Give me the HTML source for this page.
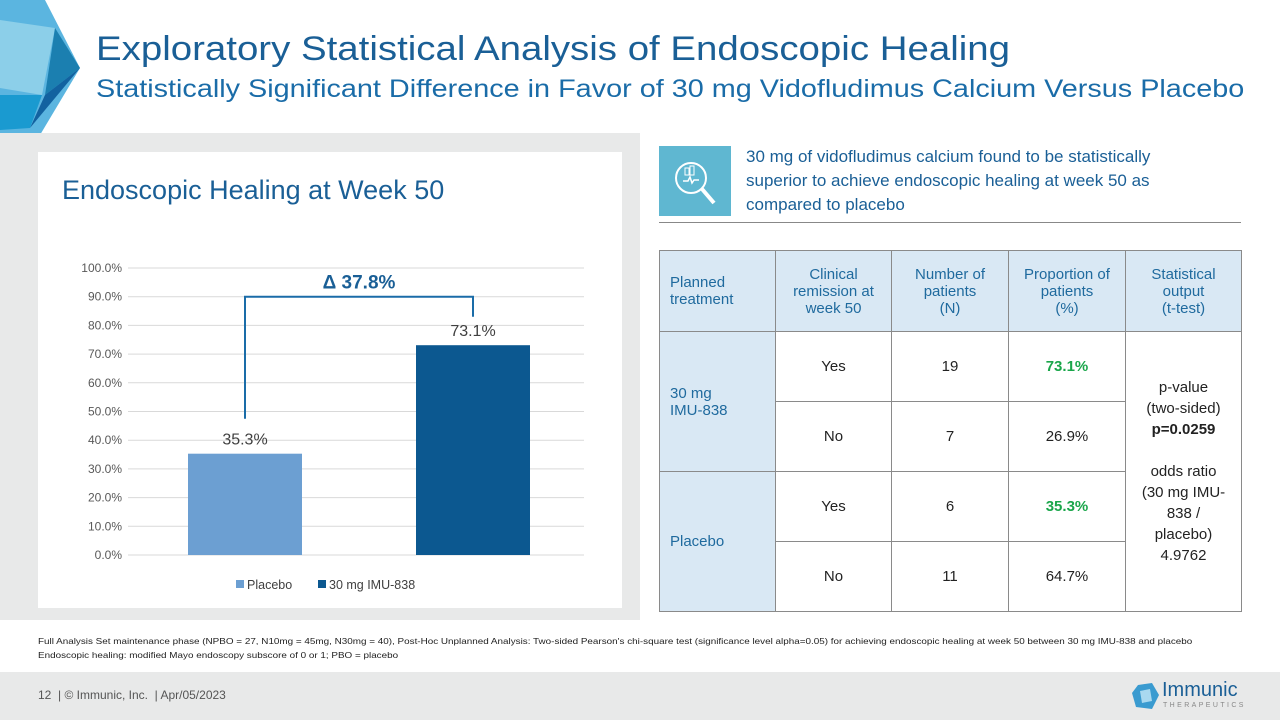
<!DOCTYPE html>
<html><head><meta charset="utf-8">
<style>
body{margin:0;width:1280px;height:720px;position:relative;overflow:hidden;background:#fff;font-family:"Liberation Sans",Carlito,sans-serif;}
.abs{position:absolute}
table{border-collapse:collapse}
td{border:1px solid #8a8a8a;text-align:center;font-size:15px;color:#222;padding:0 8px}
.h td{background:#d9e8f4;color:#1f6a9e}
.lab{background:#d9e8f4;color:#1f6a9e;text-align:left!important;padding-left:10px!important}
.g{color:#1aa64a;font-weight:bold}
</style></head><body>
<svg class="abs" style="left:0;top:0" width="130" height="180">
<polygon points="0,0 45,0 80,68 40,135 0,170" fill="#5bb5e0"/>
<polygon points="0,20 55,28 42,95 0,88" fill="#8ccfe9"/>
<polygon points="55,28 80,68 45,95" fill="#1b7fb0"/>
<polygon points="45,95 80,68 30,128" fill="#1262a0"/>
<polygon points="0,95 42,95 30,128 0,130" fill="#1a9ad0"/>
</svg>
<div class="abs" style="left:96px;top:30px;font-size:34px;color:#1a5f96;white-space:nowrap;transform:scaleX(1.13);transform-origin:0 0">Exploratory Statistical Analysis of Endoscopic Healing</div>
<div class="abs" style="left:96px;top:75px;font-size:25px;color:#1a6ca8;white-space:nowrap;transform:scaleX(1.152);transform-origin:0 0">Statistically Significant Difference in Favor of 30 mg Vidofludimus Calcium Versus Placebo</div>
<div class="abs" style="left:0;top:133px;width:640px;height:487px;background:#e8e9e9"></div>
<div class="abs" style="left:38px;top:152px;width:584px;height:456px;background:#fff"></div>
<div class="abs" style="left:62px;top:175px;font-size:27px;color:#1a5f96">Endoscopic Healing at Week 50</div>
<svg id="chart" class="abs" style="left:38px;top:152px" width="584" height="456"></svg>
<div class="abs" style="left:659px;top:146px;width:72px;height:70px;background:#5fb7d1">
<svg width="72" height="70"><circle cx="32" cy="32" r="15" fill="none" stroke="#fff" stroke-width="2"/><line x1="43" y1="43" x2="55" y2="57" stroke="#fff" stroke-width="4"/><path d="M24 35h5l2-4 2 6 2-3h5" stroke="#fff" fill="none" stroke-width="1.5"/><rect x="26" y="22" width="4" height="7" fill="none" stroke="#fff"/><rect x="31" y="20" width="4" height="9" fill="none" stroke="#fff"/></svg></div>
<div class="abs" style="left:746px;top:145px;width:470px;font-size:17px;line-height:24px;color:#1a5f96">30 mg of vidofludimus calcium found to be statistically superior to achieve endoscopic healing at week 50 as compared to placebo</div>
<div class="abs" style="left:659px;top:222px;width:582px;height:1px;background:#888"></div>
<table class="abs" style="left:659px;top:250px;width:582px;table-layout:fixed">
<colgroup><col style="width:116px"><col style="width:116px"><col style="width:117px"><col style="width:117px"><col style="width:116px"></colgroup>
<tr class="h" style="height:81px"><td class="lab">Planned treatment</td><td>Clinical remission at week 50</td><td>Number of patients<br>(N)</td><td>Proportion of patients<br>(%)</td><td>Statistical output<br>(t-test)</td></tr>
<tr style="height:70px"><td class="lab" rowspan="2">30 mg<br>IMU-838</td><td>Yes</td><td>19</td><td class="g">73.1%</td><td rowspan="4" style="line-height:21px">p-value<br>(two-sided)<br><b>p=0.0259</b><br><br>odds ratio<br>(30 mg IMU-<br>838 /<br>placebo)<br>4.9762</td></tr>
<tr style="height:70px"><td>No</td><td>7</td><td>26.9%</td></tr>
<tr style="height:70px"><td class="lab" rowspan="2">Placebo</td><td>Yes</td><td>6</td><td class="g">35.3%</td></tr>
<tr style="height:70px"><td>No</td><td>11</td><td>64.7%</td></tr>
</table>
<div class="abs" style="left:38px;top:634px;font-size:8.6px;line-height:14px;color:#222;white-space:nowrap;transform:scaleX(1.15);transform-origin:0 0">Full Analysis Set maintenance phase (NPBO = 27, N10mg = 45mg, N30mg = 40), Post-Hoc Unplanned Analysis: Two-sided Pearson's chi-square test (significance level alpha=0.05) for achieving endoscopic healing at week 50 between 30 mg IMU-838 and placebo<br>Endoscopic healing: modified Mayo endoscopy subscore of 0 or 1; PBO = placebo</div>
<div class="abs" style="left:0;top:672px;width:1280px;height:48px;background:#e8e9e9"></div>
<div class="abs" style="left:38px;top:688px;font-size:12px;color:#555">12 &nbsp;| © Immunic, Inc. &nbsp;| Apr/05/2023</div>
<div class="abs" style="left:1132px;top:681px">
<svg width="28" height="28" style="position:absolute;left:0;top:2px"><polygon points="6,2 20,0 27,12 20,26 4,24 0,10" fill="#3a9bd0"/><polygon points="8,8 18,6 20,18 10,20" fill="#a9d9f0"/></svg>
<div style="position:absolute;left:30px;top:-2px;font-size:20px;color:#1a5f96">Immunic</div>
<div style="position:absolute;left:31px;top:21px;font-size:7px;letter-spacing:2.4px;color:#888">THERAPEUTICS</div></div>
<script>
const categories=["Placebo","30 mg IMU-838"];
const values=[35.3,73.1];
const labels=["35.3%","73.1%"];
const ticks=[0,10,20,30,40,50,60,70,80,90,100];
const colors=["#6c9fd2","#0c5890"];
(function(){
const svg=document.getElementById('chart');const NS="http://www.w3.org/2000/svg";
const x0=90,x1=546,yb=403,yt=116;
const y=v=>yb-(v/100)*(yb-yt);
const bx=i=>x0+(x1-x0)*(i+0.5)/categories.length;
function mk(t,a,txt){const e=document.createElementNS(NS,t);for(const k in a)e.setAttribute(k,a[k]);if(txt!==undefined)e.textContent=txt;svg.appendChild(e);return e;}
ticks.forEach(t=>{const l=mk('line',{x1:x0,x2:x1,y1:y(t),y2:y(t),stroke:'#d9d9d9'});


const tx=mk('text',{x:x0-6,y:y(t)+4,'text-anchor':'end','font-size':12,fill:'#595959','font-family':'Liberation Sans'},t.toFixed(1)+'%');

});
const bw=114;
values.forEach((v,i)=>{const r=mk('rect',{x:bx(i)-bw/2+3,y:y(v),width:bw,height:yb-y(v),fill:colors[i]});


const t=mk('text',{x:bx(i)+3,y:y(v)-9,'text-anchor':'middle','font-size':16,fill:'#404040','font-family':'Liberation Sans'},labels[i]);

});
const la=bx(0)+3,lb=bx(1)+3,bt=y(90);
const br=mk('path',{d:`M${la} ${y(values[0])-35}V${bt}H${lb}V${bt+20}`,fill:'none',stroke:'#1a6ca8','stroke-width':2});


const dl=mk('text',{x:(la+lb)/2,y:bt-8,'text-anchor':'middle','font-size':19,fill:'#1a5f96','font-weight':'bold','font-family':'Liberation Sans'},'Δ 37.8%');


categories.forEach((c,i)=>{const lx=[198,280][i];
const s=mk('rect',{x:lx,y:428,width:8,height:8,fill:colors[i]});


const t=mk('text',{x:lx+11,y:437,'font-size':12.5,fill:'#404040','font-family':'Liberation Sans'},c);

});
})();
</script>
</body></html>
